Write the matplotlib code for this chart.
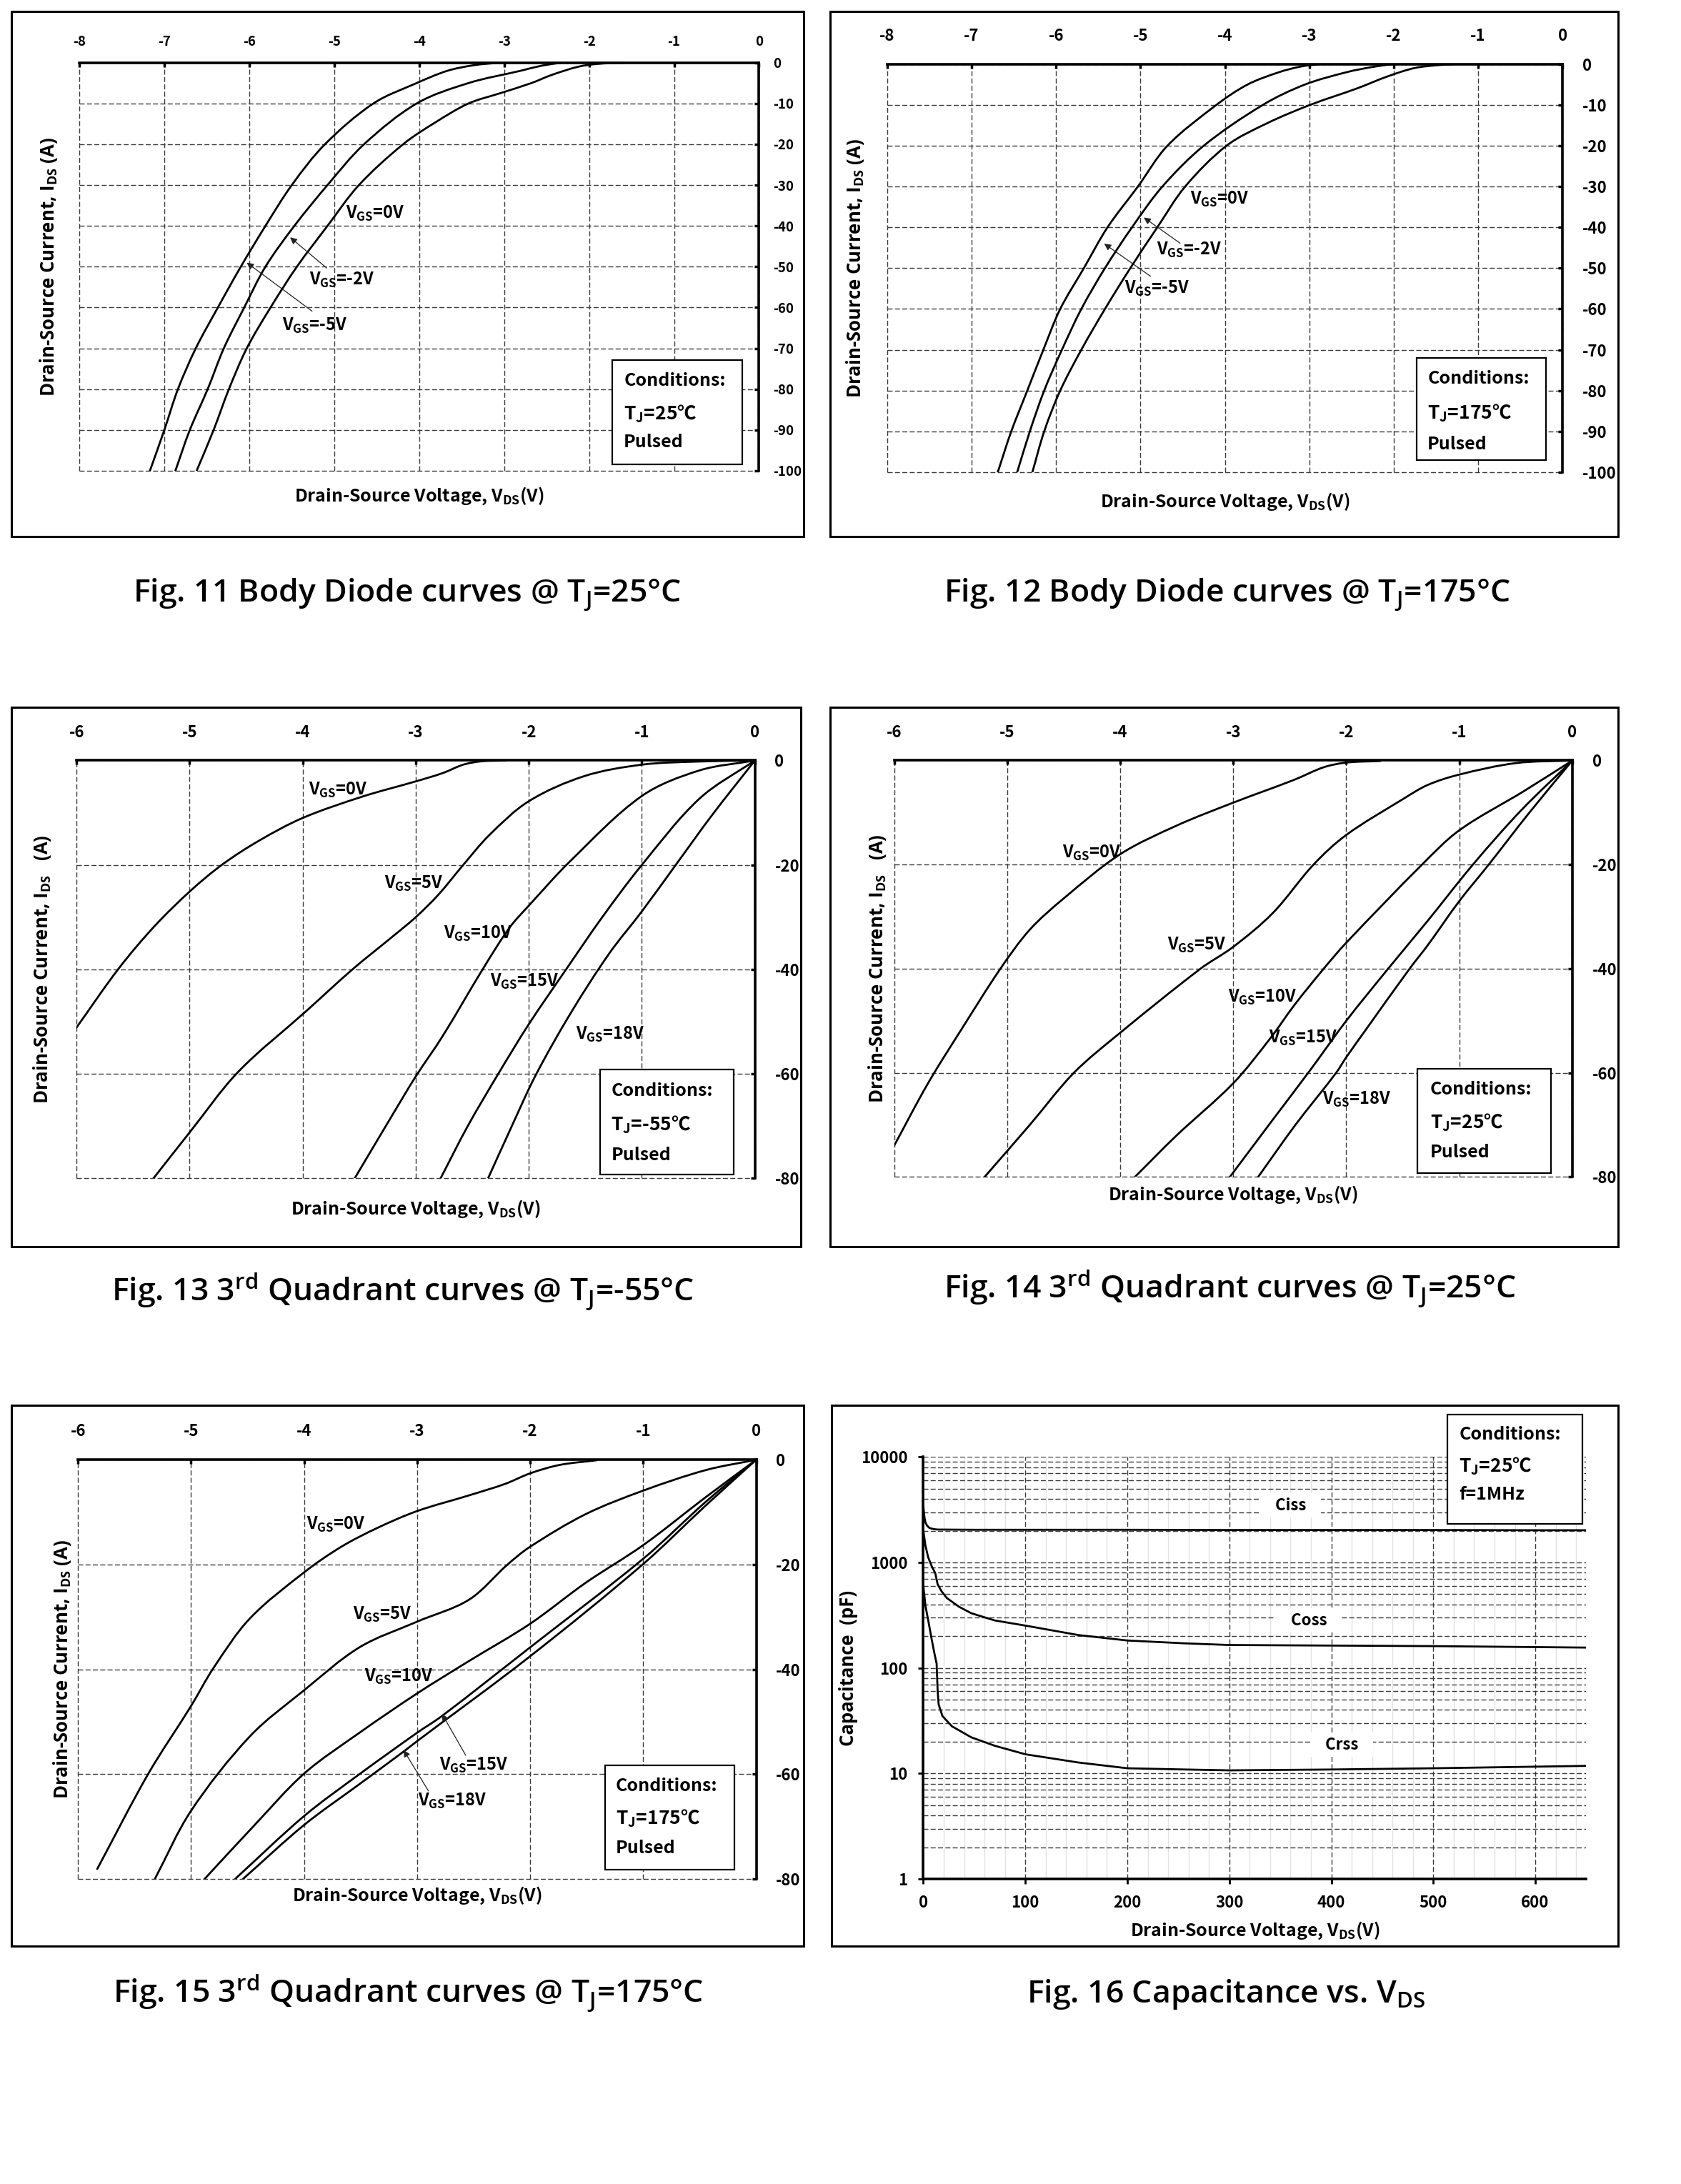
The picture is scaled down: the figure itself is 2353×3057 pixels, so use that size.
import numpy as np
import matplotlib
matplotlib.use("Agg")
import matplotlib.pyplot as plt
from matplotlib.patches import Rectangle, PathPatch
from matplotlib.path import Path
from matplotlib.ticker import LogLocator, NullFormatter

plt.rcParams["axes.unicode_minus"] = False
plt.rcParams["font.family"] = ["Noto Sans CJK SC", "DejaVu Sans"]
plt.rcParams["font.weight"] = "bold"

# Fig. 11 body diode @ TJ=25C  (VDS [V], IDS [A])
f11_vgs0_v = [-1.58, -1.90, -2.13, -2.44, -2.68, -3.05, -3.42, -3.80, -4.19, -4.71, -5.08, -5.44, -5.75, -6.03, -6.24, -6.42, -6.62]
f11_vgs0_i = [0, -0.3, -1, -3, -5, -7.5, -10, -14.5, -20, -30, -40, -50, -60, -70, -80, -90, -100]
f11_vgsm2_v = [-2.32, -2.55, -2.81, -3.42, -4.03, -4.65, -5.08, -5.47, -5.81, -6.06, -6.30, -6.49, -6.70, -6.87]
f11_vgsm2_i = [0, -0.7, -2, -5, -10, -20, -30, -40, -50, -60, -70, -80, -90, -100]
f11_vgsm5_v = [-3.05, -3.35, -3.67, -4.03, -4.54, -5.11, -5.50, -5.81, -6.10, -6.37, -6.63, -6.84, -7.00, -7.17]
f11_vgsm5_i = [0, -0.6, -2, -5, -10, -20, -30, -40, -50, -60, -70, -80, -90, -100]

# Fig. 12 body diode @ TJ=175C
f12_vgs0_v = [-1.27, -1.50, -1.76, -2.07, -2.44, -2.99, -3.50, -3.98, -4.47, -4.80, -5.12, -5.42, -5.70, -5.95, -6.14, -6.28]
f12_vgs0_i = [0, -0.3, -1, -3, -6, -10, -14.5, -20, -30, -40, -50, -60, -70, -80, -90, -100]
f12_vgsm2_v = [-2.01, -2.25, -2.56, -3.05, -3.55, -4.25, -4.74, -5.10, -5.42, -5.70, -5.93, -6.14, -6.31, -6.46]
f12_vgsm2_i = [0, -0.7, -2, -5, -10, -20, -30, -40, -50, -60, -70, -80, -90, -100]
f12_vgsm5_v = [-2.87, -3.10, -3.36, -3.73, -4.10, -4.68, -5.03, -5.39, -5.67, -5.95, -6.15, -6.34, -6.53, -6.69]
f12_vgsm5_i = [0, -0.6, -2, -5, -10, -20, -30, -40, -50, -60, -70, -80, -90, -100]

# Fig. 13 3rd quadrant @ TJ=-55C
f13_vgs0_v = [-2.2, -2.42, -2.58, -2.76, -3.0, -3.47, -4.0, -4.39, -4.71, -4.99, -5.31, -5.63, -6.0]
f13_vgs0_i = [0, -0.16, -0.8, -2.4, -4.0, -6.9, -11.0, -15.4, -19.9, -24.9, -31.7, -39.9, -51.1]
f13_vgs5_v = [0, -0.5, -1.0, -1.51, -2.0, -2.35, -2.58, -2.80, -3.0, -3.21, -3.56, -3.97, -4.57, -5.0, -5.32]
f13_vgs5_i = [0, -0.2, -0.8, -3.0, -7.8, -14.3, -20, -25.7, -30, -33.8, -40, -48, -59.6, -71.2, -80]
f13_vgs10_v = [0, -0.49, -1.0, -1.63, -2.0, -2.17, -2.40, -2.76, -3.0, -3.21, -3.54]
f13_vgs10_i = [0, -1.9, -6.8, -19.2, -27.8, -32, -39.7, -52.7, -60.5, -68, -80]
f13_vgs15_v = [0, -0.49, -1.0, -1.35, -1.67, -2.0, -2.27, -2.54, -2.78]
f13_vgs15_i = [0, -7.3, -20, -30, -40, -50.5, -60, -70, -80]
f13_vgs18_v = [0, -0.38, -0.70, -1.0, -1.29, -1.63, -1.94, -2.15, -2.36]
f13_vgs18_i = [0, -10.5, -20, -28.9, -37, -48.4, -60.3, -70, -80]

# Fig. 14 3rd quadrant @ TJ=25C
f14_vgs0_v = [-1.7, -2.0, -2.2, -2.46, -3.0, -3.5, -4.0, -4.5, -4.8, -5.06, -5.4, -5.7, -6.0]
f14_vgs0_i = [-0.1, -0.4, -1.3, -3.7, -8.1, -12.5, -18.0, -26.5, -32.5, -40.0, -51.5, -62.0, -74.0]
f14_vgs5_v = [0, -0.5, -1.0, -1.28, -1.49, -2.0, -2.29, -2.65, -3.0, -3.29, -4.0, -4.41, -4.8, -5.2]
f14_vgs5_i = [0, -0.5, -2.7, -4.7, -7.3, -14.3, -20, -29.3, -35.8, -40, -52.3, -60, -70, -80]
f14_vgs10_v = [0, -0.43, -1.0, -1.33, -2.0, -2.20, -2.46, -2.67, -3.0, -3.5, -3.87]
f14_vgs10_i = [0, -5.9, -13.4, -20, -35, -40, -47, -53.3, -62, -72, -80]
f14_vgs15_v = [0, -0.45, -0.88, -1.28, -1.63, -2.0, -2.32, -2.65, -3.03]
f14_vgs15_i = [0, -9.5, -20, -30.8, -40, -50, -59.5, -69, -80]
f14_vgs18_v = [0, -0.38, -0.74, -1.0, -1.28, -1.44, -1.82, -2.0, -2.09, -2.45, -2.78]
f14_vgs18_i = [0, -10, -20, -27, -35.5, -40, -51.5, -57, -60, -70, -80]

# Fig. 15 3rd quadrant @ TJ=175C
f15_vgs0_v = [-1.41, -1.74, -2.0, -2.22, -2.54, -3.0, -3.35, -3.67, -4.0, -4.48, -4.8, -5.0, -5.38, -5.83]
f15_vgs0_i = [-0.1, -1.0, -2.6, -4.6, -6.8, -9.8, -13.0, -16.6, -21.5, -30.3, -39.7, -47, -60, -78.1]
f15_vgs5_v = [0, -0.45, -1.0, -1.51, -2.0, -2.2, -2.54, -3.0, -3.51, -4.0, -4.48, -5.0, -5.32]
f15_vgs5_i = [0, -2.0, -5.9, -10.4, -16.6, -20, -26.7, -30.9, -35.8, -44.0, -52.8, -67, -80]
f15_vgs10_v = [0, -0.45, -1.0, -1.51, -2.0, -2.54, -3.0, -3.51, -4.0, -4.45, -4.88]
f15_vgs10_i = [0, -7.2, -16.3, -23.5, -31.3, -38.4, -44.6, -52.1, -59.9, -70, -80]
f15_vgs15_v = [0, -0.45, -1.0, -2.0, -2.78, -3.0, -3.51, -4.0, -4.61]
f15_vgs15_i = [0, -8.1, -18.9, -35.8, -48.9, -52.1, -60, -68, -80]
f15_vgs18_v = [0, -0.45, -1.0, -2.0, -3.0, -3.12, -3.51, -4.0, -4.54]
f15_vgs18_i = [0, -8.8, -19.9, -37.5, -53.7, -55.7, -61.9, -69.7, -80]

# Fig. 16 capacitance vs VDS (VDS [V], C [pF])
ciss_v = [0, 1, 2, 3.5, 6, 10, 14, 50, 100, 200, 300, 400, 500, 600, 650]
ciss_c = [3400, 2700, 2400, 2240, 2120, 2070, 2050, 2040, 2040, 2040, 2030, 2030, 2030, 2020, 2020]
coss_v = [0, 2, 4.7, 8, 11.7, 14, 18, 23, 35, 47, 70, 100, 152, 200, 257, 300, 400, 500, 650]
coss_c = [2000, 1450, 1120, 930, 790, 620, 530, 460, 380, 330, 282, 252, 205, 182, 171, 165, 163, 161, 156]
crss_v = [0, 2, 5, 8, 11, 13, 14, 15, 18.7, 28, 47, 70, 100, 152, 200, 257, 300, 400, 500, 650]
crss_c = [600, 390, 275, 190, 135, 110, 60, 45, 35, 28, 22, 18.3, 15.2, 12.7, 11.2, 10.9, 10.7, 10.9, 11.2, 11.8]

# ---------------- layout (positions measured on a 1207x1568 copy) ----------------
W, H = 1207, 1568
GRID = dict(color="#3a3a3a", lw=1.0, ls=(0, (5, 2.4)))
CURVE = dict(color="black", lw=2.0, solid_capstyle="round", zorder=3)
ARROW = dict(arrowstyle="-|>", color="#222222", lw=0.9, mutation_scale=14, shrinkA=0, shrinkB=0)
CAP_FONT = dict(fontsize=32, family="Open Sans", weight=600)
YL_FONT = dict(fontsize=18.5, family="Open Sans", weight="bold")

fig = plt.figure(figsize=(23.53, 30.57), dpi=100)


def box(x0, y0, x1, y1):
    return [x0 / W, 1 - y1 / H, (x1 - x0) / W, (y1 - y0) / H]


def frame(x0, y0, x1, y1):
    fig.add_artist(Rectangle((x0 / W, 1 - y1 / H), (x1 - x0) / W, (y1 - y0) / H,
                             transform=fig.transFigure, fill=False, lw=2.2, ec="black"))


def caption(x, y, s):
    fig.text(x / W, 1 - y / H, s, ha="center", va="center", **CAP_FONT)


def smooth(ax, xs, ys):
    # smooth line through the read points (like the "smoothed line" of the original sheet)
    p = np.column_stack([xs, ys]).astype(float)
    x0, x1 = ax.get_xlim()
    y0, y1 = ax.get_ylim()
    bb = ax.get_position()
    sx = bb.width * 23.53 / abs(x1 - x0)
    sy = bb.height * 30.57 / abs(y1 - y0)
    d = np.hypot(np.diff(p[:, 0]) * sx, np.diff(p[:, 1]) * sy)
    t = np.concatenate([[0], np.cumsum(d)])
    m = np.empty_like(p)
    m[0] = (p[1] - p[0]) / d[0]
    m[-1] = (p[-1] - p[-2]) / d[-1]
    for k in range(1, len(p) - 1):
        m[k] = (p[k + 1] - p[k - 1]) / (t[k + 1] - t[k - 1])
    verts, codes = [p[0]], [Path.MOVETO]
    for k in range(len(p) - 1):
        verts += [p[k] + m[k] * d[k] / 3, p[k + 1] - m[k + 1] * d[k] / 3, p[k + 1]]
        codes += [Path.CURVE4] * 3
    ax.add_patch(PathPatch(Path(verts, codes), fill=False, ec="black", lw=2.0,
                           capstyle="round", joinstyle="round", zorder=3))


def iv_axes(rect, xmin, ymin, ystep, fs, pad):
    ax = fig.add_axes(rect)
    ax.set_xlim(xmin, 0)
    ax.set_ylim(ymin, 0)
    ax.set_xticks(range(xmin, 1))
    ax.set_yticks(range(ymin, 1, ystep))
    ax.xaxis.tick_top()
    ax.yaxis.tick_right()
    ax.tick_params(direction="in", length=4, width=2.5, labelsize=fs, pad=pad)
    for s in ("left", "bottom"):
        ax.spines[s].set_visible(False)
    for s in ("top", "right"):
        ax.spines[s].set_linewidth(2.6)
    ax.grid(True, **GRID)
    for gl in ax.get_xgridlines() + ax.get_ygridlines():
        gl.set_clip_on(False)
    return ax


def labels(ax, xl_y, yl_x, ylab):
    ax.text(0.5, xl_y, r"Drain-Source Voltage, V$_{\mathregular{DS}}$(V)", transform=ax.transAxes,
            ha="center", va="center", fontsize=18)
    ax.text(yl_x, 0.5, ylab, transform=ax.transAxes, rotation=90,
            ha="center", va="center", **YL_FONT)


def vgs(ax, x, y, s):
    ax.text(x, y, r"V$_{\mathregular{GS}}$=" + s, ha="center", va="center", fontsize=17, zorder=6)


def conditions(ax, rect, lines, ys, tx):
    x0, y0, x1, y1 = rect
    ax.add_patch(Rectangle((x0, y0), x1 - x0, y1 - y0, transform=ax.transAxes,
                           fc="white", ec="black", lw=1.6, zorder=5, clip_on=False))
    for s, yy, fs in zip(lines, ys, (18, 19, 18)):
        ax.text(tx, yy, s, transform=ax.transAxes, ha="left", va="center", fontsize=fs, zorder=6)


ID_LABEL = r"Drain-Source Current, I$_{\mathregular{DS}}$ (A)"
ID_LABEL2 = r"Drain-Source Current, I$_{\mathregular{DS}}$   (A)"

# ---- Fig. 11
frame(8, 8, 577, 385)
ax = iv_axes(box(57, 45, 545, 338), -8, -100, 10, 13.5, 14)
smooth(ax, f11_vgs0_v, f11_vgs0_i)
smooth(ax, f11_vgsm2_v, f11_vgsm2_i)
smooth(ax, f11_vgsm5_v, f11_vgsm5_i)
vgs(ax, -4.52, -37, "0V")
vgs(ax, -4.91, -53.3, "-2V")
vgs(ax, -5.23, -64.5, "-5V")
ax.annotate("", xy=(-5.52, -42.8), xytext=(-5.09, -50.3), arrowprops=ARROW)
ax.annotate("", xy=(-6.03, -49), xytext=(-5.26, -60.9), arrowprops=ARROW)
conditions(ax, (0.784, 0.015, 0.975, 0.272),
           ["Conditions:", r"T$_{\mathregular{J}}$=25℃", "Pulsed"], [0.22, 0.14, 0.07], 0.801)
labels(ax, -0.062, -0.045, ID_LABEL)
caption(292, 427, r"Fig. 11 Body Diode curves @ T$_{\mathregular{J}}$=25°C")

# ---- Fig. 12
frame(596, 8, 1162, 385)
ax = iv_axes(box(637, 46, 1122, 339), -8, -100, 10, 16, 20)
smooth(ax, f12_vgs0_v, f12_vgs0_i)
smooth(ax, f12_vgsm2_v, f12_vgsm2_i)
smooth(ax, f12_vgsm5_v, f12_vgsm5_i)
vgs(ax, -4.06, -33.1, "0V")
vgs(ax, -4.42, -45.6, "-2V")
vgs(ax, -4.80, -55, "-5V")
ax.annotate("", xy=(-4.96, -37.6), xytext=(-4.53, -43.9), arrowprops=ARROW)
ax.annotate("", xy=(-5.43, -44), xytext=(-4.88, -52), arrowprops=ARROW)
conditions(ax, (0.784, 0.03, 0.975, 0.28),
           ["Conditions:", r"T$_{\mathregular{J}}$=175℃", "Pulsed"], [0.23, 0.144, 0.069], 0.80)
labels(ax, -0.072, -0.047, ID_LABEL)
caption(881, 427, r"Fig. 12 Body Diode curves @ T$_{\mathregular{J}}$=175°C")

# ---- Fig. 13
frame(8, 508, 575, 895)
ax = iv_axes(box(55, 546, 542, 846), -6, -80, 20, 16, 20)
smooth(ax, f13_vgs0_v, f13_vgs0_i)
smooth(ax, f13_vgs5_v, f13_vgs5_i)
smooth(ax, f13_vgs10_v, f13_vgs10_i)
smooth(ax, f13_vgs15_v, f13_vgs15_i)
smooth(ax, f13_vgs18_v, f13_vgs18_i)
vgs(ax, -3.69, -5.6, "0V")
vgs(ax, -3.02, -23.6, "5V")
vgs(ax, -2.45, -33.1, "10V")
vgs(ax, -2.04, -42.3, "15V")
vgs(ax, -1.28, -52.5, "18V")
conditions(ax, (0.772, 0.01, 0.969, 0.261),
           ["Conditions:", r"T$_{\mathregular{J}}$=-55℃", "Pulsed"], [0.21, 0.129, 0.055], 0.788)
labels(ax, -0.073, -0.051, ID_LABEL2)
caption(289, 927, r"Fig. 13 3$^{\mathregular{rd}}$ Quadrant curves @ T$_{\mathregular{J}}$=-55°C")

# ---- Fig. 14
frame(596, 508, 1162, 895)
ax = iv_axes(box(642, 546, 1129, 845), -6, -80, 20, 16, 20)
smooth(ax, f14_vgs0_v, f14_vgs0_i)
smooth(ax, f14_vgs5_v, f14_vgs5_i)
smooth(ax, f14_vgs10_v, f14_vgs10_i)
smooth(ax, f14_vgs15_v, f14_vgs15_i)
smooth(ax, f14_vgs18_v, f14_vgs18_i)
vgs(ax, -4.25, -17.8, "0V")
vgs(ax, -3.32, -35.5, "5V")
vgs(ax, -2.74, -45.5, "10V")
vgs(ax, -2.38, -53.3, "15V")
vgs(ax, -1.91, -65.1, "18V")
conditions(ax, (0.772, 0.009, 0.968, 0.259),
           ["Conditions:", r"T$_{\mathregular{J}}$=25℃", "Pulsed"], [0.21, 0.131, 0.059], 0.79)
labels(ax, -0.043, -0.025, ID_LABEL2)
caption(883, 925, r"Fig. 14 3$^{\mathregular{rd}}$ Quadrant curves @ T$_{\mathregular{J}}$=25°C")

# ---- Fig. 15
frame(8, 1009, 577, 1397)
ax = iv_axes(box(56, 1048, 543, 1349), -6, -80, 20, 16, 20)
smooth(ax, f15_vgs0_v, f15_vgs0_i)
smooth(ax, f15_vgs5_v, f15_vgs5_i)
smooth(ax, f15_vgs10_v, f15_vgs10_i)
smooth(ax, f15_vgs15_v, f15_vgs15_i)
smooth(ax, f15_vgs18_v, f15_vgs18_i)
vgs(ax, -3.72, -12.4, "0V")
vgs(ax, -3.31, -29.6, "5V")
vgs(ax, -3.16, -41.4, "10V")
vgs(ax, -2.50, -58.3, "15V")
vgs(ax, -2.69, -65.1, "18V")
ax.annotate("", xy=(-2.78, -48.5), xytext=(-2.57, -56.4), arrowprops=ARROW)
ax.annotate("", xy=(-3.12, -55.4), xytext=(-2.90, -63.2), arrowprops=ARROW)
conditions(ax, (0.777, 0.0225, 0.968, 0.271),
           ["Conditions:", r"T$_{\mathregular{J}}$=175℃", "Pulsed"], [0.222, 0.145, 0.073], 0.793)
labels(ax, -0.04, -0.023, ID_LABEL)
caption(293, 1431, r"Fig. 15 3$^{\mathregular{rd}}$ Quadrant curves @ T$_{\mathregular{J}}$=175°C")

# ---- Fig. 16
frame(597, 1009, 1162, 1397)
ax = fig.add_axes(box(663, 1046, 1139, 1349))
ax.set_yscale("log")
ax.set_xlim(0, 650)
ax.set_ylim(1, 10000)
ax.set_xticks(range(0, 601, 100))
ax.set_yticks([1, 10, 100, 1000, 10000])
ax.set_yticklabels(["1", "10", "100", "1000", "10000"])
ax.yaxis.set_minor_locator(LogLocator(base=10, subs=np.arange(2, 10)))
ax.yaxis.set_minor_formatter(NullFormatter())
ax.set_xticks(np.arange(0, 651, 20), minor=True)
ax.tick_params(which="major", direction="out", length=5, width=2, labelsize=16, pad=11)
ax.tick_params(which="minor", length=0)
for s in ("top", "right"):
    ax.spines[s].set_visible(False)
for s in ("left", "bottom"):
    ax.spines[s].set_linewidth(2.6)
ax.grid(which="minor", axis="x", color="#e2e2e2", lw=1.0, ls="-")
ax.grid(which="major", axis="both", **GRID)
ax.grid(which="minor", axis="y", **GRID)
ax.plot(ciss_v, ciss_c, **CURVE)
ax.plot(coss_v, coss_c, **CURVE)
ax.plot(crss_v, crss_c, **CURVE)
for x, y, s in [(360, 3470, "Ciss"), (378, 282, "Coss"), (410, 18.7, "Crss")]:
    ax.text(x, y, "   " + s + "   ", ha="center", va="center", fontsize=16, zorder=4,
            bbox=dict(boxstyle="square,pad=0.25", fc="white", ec="none"))
conditions(ax, (0.791, 0.842, 0.994, 1.10),
           ["Conditions:", r"T$_{\mathregular{J}}$=25℃", "f=1MHz"], [1.053, 0.978, 0.91], 0.808)
ax.text(0.5, -0.122, r"Drain-Source Voltage, V$_{\mathregular{DS}}$(V)", transform=ax.transAxes,
        ha="center", va="center", fontsize=18)
ax.text(-0.113, 0.5, "Capacitance  (pF)", transform=ax.transAxes, rotation=90,
        ha="center", va="center", **YL_FONT)
caption(880, 1432, r"Fig. 16 Capacitance vs. V$_{\mathregular{DS}}$")

fig.savefig("out.png", dpi=100)
